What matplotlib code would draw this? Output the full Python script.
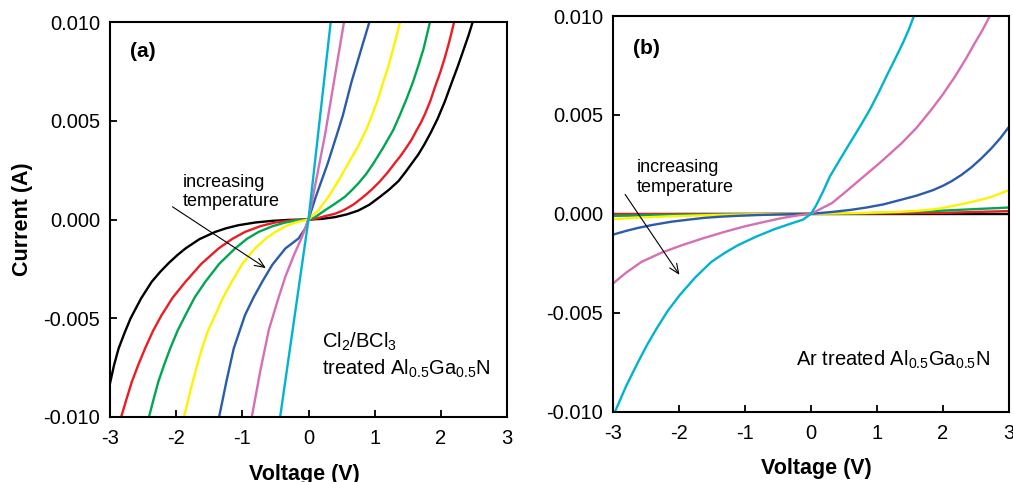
import numpy as np
import matplotlib
matplotlib.use("Agg")
import matplotlib.pyplot as plt

plt.rcParams["font.family"] = ["Liberation Sans", "DejaVu Sans"]
plt.rcParams["mathtext.fontset"] = "custom"
plt.rcParams["mathtext.rm"] = "Liberation Sans"
plt.rcParams["mathtext.it"] = "Liberation Sans:italic"
plt.rcParams["axes.unicode_minus"] = False

# colours, coolest to hottest
COLORS = ["#000000", "#ed1c24", "#00a651", "#fff200", "#2a5caa", "#d66fb3", "#00b4cf"]

# --- (a) Cl2/BCl3 treated: voltage (V) / current (mA)
a_black_v = [-3.0, -2.94, -2.87, -2.78, -2.69, -2.53, -2.37, -2.24, -2.11, -1.98,
             -1.86, -1.65, -1.41, -1.25, -1.06, -0.8, -0.55, -0.3, 0.0,
             0.2, 0.4, 0.58, 0.75, 0.92, 1.08, 1.22, 1.36, 1.46, 1.56, 1.66,
             1.75, 1.85, 1.95, 2.06, 2.16, 2.26, 2.35, 2.42, 2.48]
a_black_i = [-8.31, -7.4, -6.54, -5.75, -5.02, -4.0, -3.16, -2.65, -2.2, -1.8,
             -1.47, -1.0, -0.63, -0.45, -0.29, -0.15, -0.07, -0.02, 0.0,
             0.03, 0.12, 0.26, 0.45, 0.75, 1.15, 1.52, 1.95, 2.38, 2.84, 3.3,
             3.8, 4.42, 5.1, 5.98, 6.9, 7.8, 8.67, 9.35, 10.0]
a_red_v = [-2.83, -2.75, -2.67, -2.57, -2.47, -2.35, -2.22, -2.05, -1.86, -1.62,
           -1.36, -1.15, -0.96, -0.72, -0.5, -0.25, 0.0,
           0.12, 0.25, 0.4, 0.53, 0.68, 0.83, 0.95, 1.07, 1.19, 1.30, 1.39,
           1.48, 1.56, 1.63, 1.70, 1.76, 1.84, 1.91, 1.99, 2.06, 2.13, 2.2]
a_red_i = [-10.0, -9.1, -8.23, -7.35, -6.54, -5.65, -4.85, -3.95, -3.16, -2.25,
           -1.47, -0.98, -0.63, -0.33, -0.15, -0.04, 0.0,
           0.05, 0.17, 0.29, 0.47, 0.76, 1.15, 1.5, 1.9, 2.36, 2.84, 3.22,
           3.65, 4.06, 4.5, 4.92, 5.35, 6.0, 6.7, 7.45, 8.2, 9.05, 10.0]
a_green_v = [-2.41, -2.34, -2.27, -2.18, -2.09, -1.98, -1.86, -1.72, -1.56, -1.35,
             -1.11, -0.93, -0.755, -0.55, -0.35, -0.17, 0.0,
             0.1, 0.25, 0.4, 0.55, 0.65, 0.75, 0.87, 0.98, 1.13, 1.28, 1.38,
             1.48, 1.58, 1.66, 1.74, 1.835]
a_green_i = [-10.0, -9.1, -8.23, -7.35, -6.54, -5.65, -4.85, -3.95, -3.16, -2.25,
             -1.47, -0.98, -0.63, -0.35, -0.15, -0.04, 0.0,
             0.12, 0.47, 0.8, 1.15, 1.47, 1.82, 2.3, 2.84, 3.65, 4.53, 5.29,
             6.1, 6.98, 7.8, 8.67, 10.0]
a_yellow_v = [-1.88, -1.815, -1.75, -1.68, -1.61, -1.52, -1.41, -1.29, -1.16, -1.0,
              -0.81, -0.65, -0.5, -0.35, -0.2, 0.0,
              0.15, 0.30, 0.45, 0.6, 0.74, 0.87, 0.96, 1.05, 1.13, 1.21, 1.28,
              1.33, 1.382]
a_yellow_i = [-10.0, -9.1, -8.23, -7.35, -6.54, -5.65, -4.85, -3.95, -3.16, -2.25,
              -1.47, -0.98, -0.63, -0.35, -0.15, 0.0,
              0.47, 1.15, 1.95, 2.84, 3.65, 4.53, 5.29, 6.1, 6.98, 7.8, 8.67,
              9.3, 10.0]
a_blue_v = [-1.35, -1.24, -1.13, -0.96, -0.83, -0.70, -0.55, -0.35, -0.15, -0.05, 0.0,
            0.11, 0.29, 0.45, 0.52, 0.65, 0.80, 0.919]
a_blue_i = [-10.0, -8.2, -6.54, -4.85, -3.95, -3.16, -2.31, -1.47, -0.96, -0.46, 0.0,
            1.15, 2.84, 4.53, 5.29, 6.98, 8.67, 10.0]
a_pink_v = [-0.856, -0.73, -0.6, -0.47, -0.35, -0.22, -0.1, 0.0, 0.25, 0.536]
a_pink_i = [-10.0, -7.7, -5.6, -4.15, -2.9, -1.8, -0.9, 0.0, 4.3, 10.0]
a_cyan_v = [-0.428, 0.0, 0.335]
a_cyan_i = [-10.0, 0.0, 10.0]

# --- (b) Ar treated
b_black_v = [-3.0, 0.0, 3.0]
b_black_i = [0.0, 0.0, 0.0]
b_red_v = [-3.0, 0.0, 1.0, 2.0, 3.0]
b_red_i = [-0.02, 0.0, 0.02, 0.05, 0.14]
b_green_v = [-3.0, -2.0, -1.0, 0.0, 0.84, 1.85, 3.0]
b_green_i = [-0.1, -0.05, -0.02, 0.0, 0.03, 0.14, 0.32]
b_yellow_v = [-3.0, -2.62, -2.12, -1.5, -0.8, 0.0, 0.84, 1.34, 1.6, 1.85, 2.05,
              2.28, 2.5, 2.73, 3.0]
b_yellow_i = [-0.27, -0.19, -0.12, -0.06, -0.02, 0.0, 0.05, 0.1, 0.15, 0.22, 0.33,
              0.49, 0.65, 0.85, 1.2]
b_blue_v = [-3.0, -2.8, -2.62, -2.4, -2.12, -1.85, -1.61, -1.35, -1.11, -0.8, -0.5, 0.0,
            0.33, 0.6, 0.84, 1.1, 1.34, 1.6, 1.85, 2.0, 2.13, 2.28, 2.43, 2.58,
            2.73, 2.87, 3.0]
b_blue_i = [-1.05, -0.86, -0.71, -0.56, -0.40, -0.29, -0.2, -0.14, -0.1, -0.06, -0.03, 0.0,
            0.1, 0.2, 0.32, 0.48, 0.69, 0.92, 1.2, 1.42, 1.65, 1.97, 2.35, 2.8,
            3.3, 3.83, 4.4]
b_pink_v = [-3.0, -2.8, -2.57, -2.27, -1.96, -1.64, -1.31, -1.0, -0.70, -0.45, -0.2, 0.0,
            0.32, 0.52, 0.75, 1.05, 1.37, 1.6, 1.82, 2.0, 2.18, 2.34, 2.48, 2.6, 2.71]
b_pink_i = [-3.52, -2.97, -2.43, -1.97, -1.59, -1.24, -0.91, -0.63, -0.40, -0.22, -0.08, 0.0,
            0.55, 1.1, 1.75, 2.6, 3.56, 4.35, 5.25, 6.05, 6.93, 7.8, 8.62, 9.3, 10.0]
b_cyan_v = [-2.97, -2.8, -2.62, -2.48, -2.34, -2.17, -1.99, -1.75, -1.51, -1.31,
            -1.11, -0.83, -0.55, -0.33, -0.12, 0.0,
            0.08, 0.18, 0.283, 0.43, 0.586, 0.74, 0.889, 1.02, 1.14, 1.27, 1.39,
            1.48, 1.56]
b_cyan_i = [-10.0, -8.7, -7.49, -6.6, -5.8, -4.9, -4.11, -3.2, -2.43, -1.98,
            -1.59, -1.15, -0.77, -0.52, -0.29, 0.0,
            0.44, 1.11, 1.87, 2.7, 3.56, 4.4, 5.25, 6.1, 6.93, 7.8, 8.62,
            9.3, 10.0]

curves_a = [(a_black_v, a_black_i), (a_red_v, a_red_i), (a_green_v, a_green_i),
            (a_yellow_v, a_yellow_i), (a_blue_v, a_blue_i), (a_pink_v, a_pink_i),
            (a_cyan_v, a_cyan_i)]
curves_b = [(b_black_v, b_black_i), (b_red_v, b_red_i), (b_green_v, b_green_i),
            (b_yellow_v, b_yellow_i), (b_blue_v, b_blue_i), (b_pink_v, b_pink_i),
            (b_cyan_v, b_cyan_i)]

x_ticks = [-3, -2, -1, 0, 1, 2, 3]
y_ticks = [-0.010, -0.005, 0.0, 0.005, 0.010]
y_tick_labels = ["-0.010", "-0.005", "0.000", "0.005", "0.010"]

fig = plt.figure(figsize=(10.13, 4.82), dpi=100)
ax_a = fig.add_axes([110 / 1013, 1 - 416.7 / 482, 397 / 1013, 394.4 / 482])
ax_b = fig.add_axes([613 / 1013, 1 - 411.7 / 482, 396 / 1013, 395.7 / 482])


def style_axes(ax):
    ax.set_xlim(-3, 3)
    ax.set_ylim(-0.010, 0.010)
    ax.set_xticks(x_ticks)
    ax.set_xticklabels([str(t) for t in x_ticks])
    ax.set_yticks(y_ticks)
    ax.set_yticklabels(y_tick_labels)
    ax.tick_params(axis="both", direction="in", length=5, width=1.3,
                   labelsize=14.5)
    ax.tick_params(axis="x", pad=9)
    ax.tick_params(axis="y", pad=7)
    for sp in ax.spines.values():
        sp.set_linewidth(1.5)


for ax, curves in ((ax_a, curves_a), (ax_b, curves_b)):
    for (v, i), c in zip(curves, COLORS):
        ax.plot(v, np.array(i) * 1e-3, color=c, lw=1.7, solid_joinstyle="round")
    style_axes(ax)

# panel (a) annotations
ax_a.set_ylabel("Current (A)", fontsize=15.5, fontweight="bold")
ax_a.yaxis.set_label_coords(-0.194, 0.5)
ax_a.set_xlabel("Voltage (V)", fontsize=15.5, fontweight="bold")
ax_a.xaxis.set_label_coords(0.489, -0.12)
ax_a.text(-2.70, 0.0085, "(a)", fontsize=15, fontweight="bold", va="center")
ax_a.text(-1.90, 0.00190, "increasing", fontsize=13, va="center")
ax_a.text(-1.90, 0.00093, "temperature", fontsize=13, va="center")
ax_a.annotate("", xy=(-0.61, -0.00254), xytext=(-2.09, 0.00072),
              arrowprops=dict(arrowstyle="->,head_length=0.7,head_width=0.3",
                              lw=0.8, color="black"))
ax_a.text(0.20, -0.0062, r"Cl$_2$/BCl$_3$", fontsize=14.5, va="center")
ax_a.text(0.20, -0.00755, r"treated Al$_{0.5}$Ga$_{0.5}$N", fontsize=14.5,
          va="center")

# panel (b) annotations
ax_b.set_xlabel("Voltage (V)", fontsize=15.5, fontweight="bold")
ax_b.xaxis.set_label_coords(0.513, -0.117)
ax_b.text(-2.70, 0.00838, "(b)", fontsize=15, fontweight="bold", va="center")
ax_b.text(-2.64, 0.00235, "increasing", fontsize=13, va="center")
ax_b.text(-2.64, 0.00132, "temperature", fontsize=13, va="center")
ax_b.annotate("", xy=(-1.97, -0.0032), xytext=(-2.84, 0.0011),
              arrowprops=dict(arrowstyle="->,head_length=0.7,head_width=0.3",
                              lw=0.8, color="black"))
ax_b.text(-0.22, -0.0074, r"Ar treated Al$_{0.5}$Ga$_{0.5}$N", fontsize=14.5,
          va="center")

fig.savefig("out.png", dpi=100)
